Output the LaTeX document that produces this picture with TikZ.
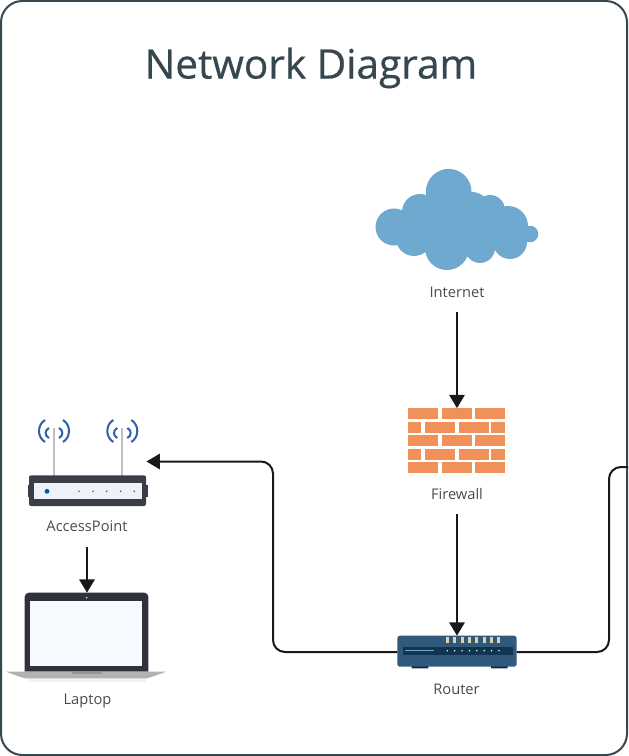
\documentclass[tikz,border=0pt]{standalone}
\usepackage{fontspec}
\setmainfont{Open Sans}
\newfontfamily\titlefont[FakeBold=0.6]{Open Sans}
\usetikzlibrary{arrows.meta}
\definecolor{framecol}{HTML}{37474F}
\definecolor{labelcol}{HTML}{4A4A4A}
\definecolor{cloudcol}{HTML}{6FA9CF}
\definecolor{brickcol}{HTML}{F0915A}
\definecolor{apbody}{HTML}{3A3F47}
\definecolor{apstrip}{HTML}{EEF1F5}
\definecolor{wavecol}{HTML}{2F5FA8}
\definecolor{lidcol}{HTML}{2F323A}
\definecolor{screencol}{HTML}{F5FAFE}
\definecolor{routercol}{HTML}{30597C}
\definecolor{routerdark}{HTML}{0F3552}
\definecolor{portcol}{HTML}{E8CFAE}
\tikzset{
	icon/.style args={#1 by #2}{inner sep=0,outer sep=0,minimum width=#1*0.75pt,minimum height=#2*0.75pt},
	devlabel/.style={text=labelcol,inner sep=0,outer sep=0,minimum height=30pt,font=\fontsize{11}{13}\selectfont},
	link/.style={line width=1.5pt,draw=black!90,rounded corners=9pt},
	linkarrow/.style={link,-{Triangle[length=10pt,width=11.5pt]}}
}
\begin{document}
\begin{tikzpicture}[x=0.75pt,y=-0.75pt]
	\useasboundingbox (0,0) rectangle (628,756);
	\draw[line width=1.5pt,draw=framecol,rounded corners=16pt] (1,1) rectangle (627,755);
	\node[text=framecol,inner sep=0,font=\titlefont\fontsize{30.4}{34}\selectfont] (title) at (311,68) {Network Diagram};

	\node[icon=162 by 102] (internet) at (457,219) {};
	\fill[cloudcol] (448.7,191.7) circle[radius=22.8] (394,227) circle[radius=18.5]
		(420,212) circle[radius=18] (414,238) circle[radius=18] (447,248) circle[radius=22]
		(480,248) circle[radius=15] (508,226) circle[radius=20] (510,242) circle[radius=17]
		(490,210) circle[radius=15] (472,210) circle[radius=18] (530,234) circle[radius=8.3]
		(510,232) circle[radius=18.5] (450,225) circle[radius=30];
	\fill[cloudcol] (400,215) rectangle (515,250);
	\node[devlabel] (internetlabel) at (457,292) {Internet};

	\node[icon=97 by 65] (firewall) at (457,440.7) {};
	\foreach \y in {408.3,435.3,462.3}
		\foreach \x in {408,441.7,475.3}
			\fill[brickcol] (\x,\y) rectangle ++(30,10.7);
	\foreach \y in {422,449}{
		\fill[brickcol] (408,\y) rectangle ++(13,10.7);
		\fill[brickcol] (425,\y) rectangle ++(29.7,10.7);
		\fill[brickcol] (458.7,\y) rectangle ++(30,10.7);
		\fill[brickcol] (491.3,\y) rectangle ++(14,10.7);
	}
	\node[devlabel] (firewalllabel) at (457,494) {Firewall};

	\node[icon=119.4 by 32.6] (router) at (457,652) {};
	\fill[routerdark!80!black] (411.7,665) rectangle (428.3,668.3) (491,665) rectangle (507.7,668.3);
	\fill[routercol,rounded corners=2pt] (397.3,635.7) rectangle (516.7,666.7);
	\fill[routerdark] (402.7,647.3) rectangle (512.7,654.7);
	\draw[line width=0.8pt,draw=cloudcol] (405.3,650.7) -- (434,650.7);
	\foreach \i in {0,...,7}{
		\fill[white] (447.3+\i*7.38,650.7) circle[radius=0.8];
		\fill[portcol] (445.8+\i*7.38,637.3) rectangle ++(3,6);
	}
	\node[devlabel] (routerlabel) at (456.5,689) {Router};

	\node[icon=118 by 89] (ap) at (87.5,461.5) {};
	\foreach \x in {54,122.3}{
		\draw[line width=1.5pt,draw=black!25] (\x,428) -- (\x,476);
		\foreach \s in {-1,1}{
			\draw[line width=1.5pt,draw=wavecol] (\x+\s*5,428) .. controls (\x+\s*9.5,430) and (\x+\s*9.5,436) .. (\x+\s*5,438);
			\draw[line width=1.5pt,draw=wavecol] (\x+\s*9,420) .. controls (\x+\s*17,425) and (\x+\s*17,437) .. (\x+\s*9,442);
		}
	}
	\fill[apbody] (28,485) rectangle (148,497);
	\fill[apbody,rounded corners=1.5pt] (29,475.3) rectangle (146,506);
	\fill[apstrip] (34,482.7) rectangle (141.7,498.7);
	\fill[blue!60!cyan!80!black] (47,491.3) circle[radius=2.4];
	\foreach \x in {79,93,106.7,120.7,134.3}
		\fill[wavecol] (\x,491.3) circle[radius=0.9];
	\node[devlabel] (aplabel) at (87,526.5) {AccessPoint};

	\node[icon=124 by 86] (laptop) at (87,635.7) {};
	\fill[black!5] (28,678) rectangle (146,682);
	\fill[lidcol] (24.7,671.7) [rounded corners=3pt] -- (24.7,592.7) -- (148.3,592.7) [sharp corners] -- (148.3,671.7) -- cycle;
	\fill[black!30] (6,671.7) -- (166,671.7) .. controls (160,674) and (152,677) .. (147,678.3) -- (25,678.3) .. controls (20,677) and (12,674) .. cycle;
	\fill[black!42] (71.7,671.7) rectangle (101.7,674);
	\fill[screencol] (30,601.3) rectangle (142.3,666);
	\fill[white] (86.7,597.7) circle[radius=0.8];
	\node[devlabel] (laptoplabel) at (87.5,701) {Laptop};

	\coordinate (leftturn) at (273,461.5);
	\coordinate (rightturn) at (609,467);
	\coordinate (rightout) at (628,467);
	\draw[linkarrow] (internetlabel.south) -- (firewall.north);
	\draw[linkarrow] (firewalllabel.south) -- (router.north);
	\draw[linkarrow] (aplabel.south) -- (laptop.north);
	\draw[linkarrow] (router.west) -| (leftturn) -- (ap.east);
	\draw[link] (router.east) -| (rightturn) -- (rightout);
\end{tikzpicture}
\end{document}
